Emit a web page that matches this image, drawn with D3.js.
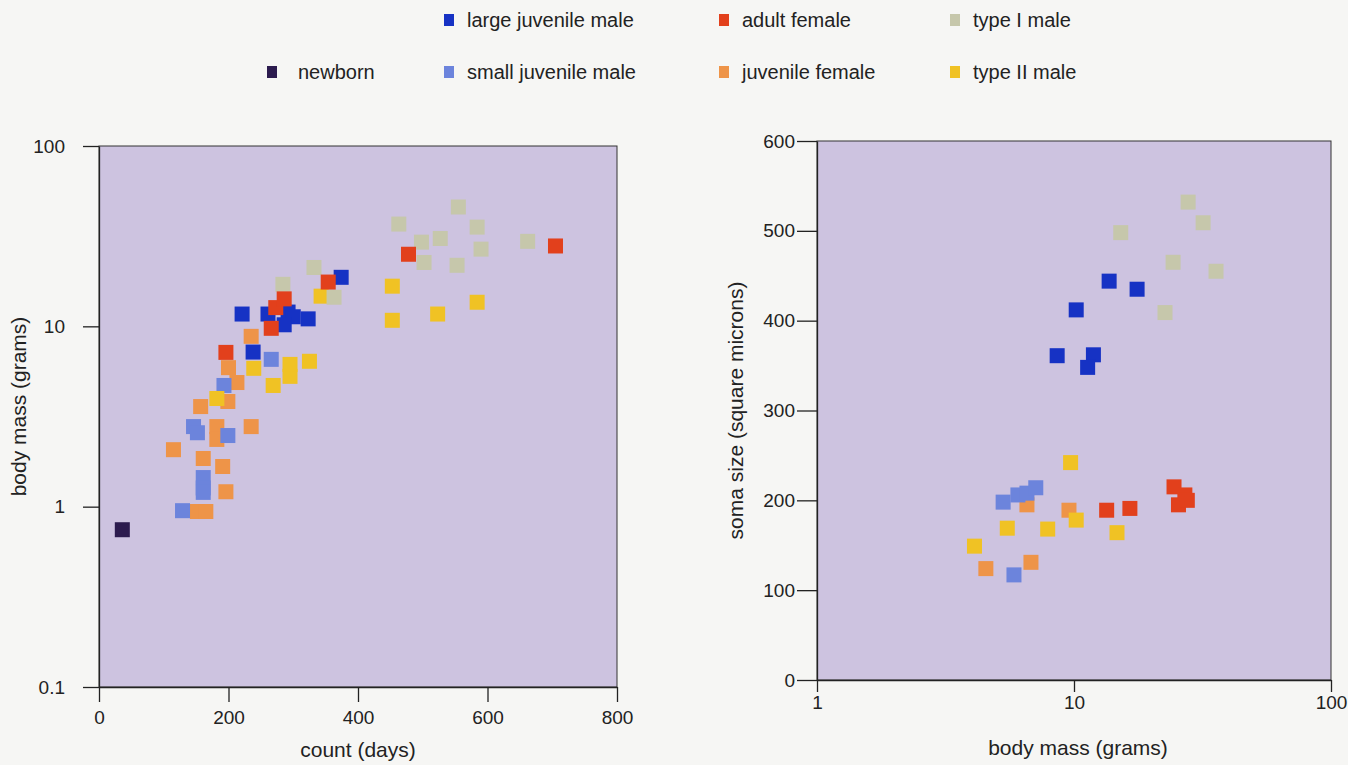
<!DOCTYPE html>
<html>
<head>
<meta charset="utf-8">
<script src="https://cdn.jsdelivr.net/npm/d3@7"></script>
<style>
  body { margin: 0; background: #f6f6f4; }
  svg { font-family: "Liberation Sans", Arial, sans-serif; }
</style>
</head>
<body>
<svg id="chart" width="1348" height="765"></svg>
<script>
// categories, in legend order
var categories = ["newborn", "large juvenile male", "small juvenile male", "adult female", "juvenile female", "type I male", "type II male"];
var catColors = ["#2c1b4e", "#1632c4", "#6c84dc", "#e2401c", "#ee9448", "#c6c7ab", "#f0c224"];

// left panel: age (days) vs body mass (grams), one array per category
var ageNewborn = [[36, 0.745]];
var ageLargeJuv = [[238, 7.2], [221, 11.7], [261, 11.7], [292, 12.0], [300, 11.3], [323, 11.0], [286, 10.2], [374, 18.7]];
var ageSmallJuv = [[129, 0.95], [161, 1.45], [161, 1.27], [161, 1.2], [146, 2.78], [152, 2.57], [199, 2.48], [193, 4.7], [266, 6.56]];
var ageAdultFem = [[196, 7.17], [266, 9.75], [273, 12.7], [286, 14.2], [354, 17.6], [478, 25.1], [705, 27.9]];
var ageJuvFem = [[152, 0.94], [165, 0.94], [196, 1.21], [161, 1.85], [191, 1.67], [115, 2.07], [182, 2.78], [182, 2.36], [235, 2.78], [157, 3.59], [199, 3.83], [213, 4.88], [200, 5.9], [235, 8.8]];
var ageTypeI = [[284, 17.1], [332, 21.2], [363, 14.5], [463, 36.9], [555, 45.9], [584, 35.5], [527, 30.7], [498, 29.3], [502, 22.6], [590, 26.8], [553, 21.8], [662, 29.6]];
var ageTypeII = [[182, 3.98], [239, 5.85], [269, 4.7], [295, 5.28], [295, 6.15], [325, 6.4], [343, 14.7], [453, 16.7], [453, 10.8], [523, 11.7], [584, 13.6]];

// right panel: body mass (grams) vs soma size (square microns)
var somaLargeJuv = [[13.7, 444], [17.6, 435], [10.2, 412], [8.6, 361], [11.9, 362], [11.3, 348]];
var somaSmallJuv = [[5.3, 198], [6.05, 206], [6.56, 208], [7.1, 214], [5.84, 117]];
var somaAdultFem = [[13.4, 189], [16.5, 191], [24.5, 215], [27.0, 206], [25.5, 195], [27.6, 200]];
var somaJuvFem = [[6.56, 195], [9.56, 189], [4.54, 124], [6.8, 131]];
var somaTypeI = [[27.8, 532], [31.8, 509], [15.2, 498], [24.3, 465], [35.7, 455], [22.6, 409]];
var somaTypeII = [[9.7, 242], [10.2, 178], [5.5, 169], [7.9, 168], [14.7, 164], [4.1, 149]];

// tick labels
var ageTicks = [0, 200, 400, 600, 800];
var massTicks = [0.1, 1, 10, 100];
var somaTicks = [0, 100, 200, 300, 400, 500, 600];
var massTicksR = [1, 10, 100];

var leftSeries = [
    {cat: "newborn", pts: ageNewborn},
    {cat: "juvenile female", pts: ageJuvFem},
    {cat: "small juvenile male", pts: ageSmallJuv},
    {cat: "type II male", pts: ageTypeII},
    {cat: "type I male", pts: ageTypeI},
    {cat: "large juvenile male", pts: ageLargeJuv},
    {cat: "adult female", pts: ageAdultFem}
];
var rightSeries = [
    {cat: "type I male", pts: somaTypeI},
    {cat: "large juvenile male", pts: somaLargeJuv},
    {cat: "juvenile female", pts: somaJuvFem},
    {cat: "small juvenile male", pts: somaSmallJuv},
    {cat: "type II male", pts: somaTypeII},
    {cat: "adult female", pts: somaAdultFem}
];

var color = d3.scaleOrdinal().domain(categories).range(catColors);
var svg = d3.select("#chart");
var size = 15;

function panel(box, x, y, series) {
    var g = svg.append("g");
    g.append("rect")
        .attr("x", box.left).attr("y", box.top)
        .attr("width", box.right - box.left).attr("height", box.bottom - box.top)
        .attr("fill", "#cdc3e0")
        .attr("stroke", "#333").attr("stroke-width", 1);

    series.forEach(function(s) {
        g.selectAll(null)
            .data(s.pts)
            .enter()
            .append("rect")
            .attr("x", function(d) { return x(d[0]) - size / 2; })
            .attr("y", function(d) { return y(d[1]) - size / 2; })
            .attr("width", size).attr("height", size)
            .attr("fill", color(s.cat));
    });
    return g;
}

function styleAxis(sel) {
    sel.select(".domain").attr("stroke", "#222").attr("stroke-width", 1.3);
    sel.selectAll(".tick line").attr("stroke", "#222").attr("stroke-width", 1.3);
    sel.selectAll(".tick text").attr("fill", "#222").style("font-size", "19px");
}

// ---- left panel
var L = {left: 99, right: 617, top: 146, bottom: 687};
var xL = d3.scaleLinear().domain([0, 800]).range([L.left, L.right]);
var yL = d3.scaleLog().domain([0.1, 100]).range([L.bottom, L.top]);
panel(L, xL, yL, leftSeries);

svg.append("g")
    .attr("transform", "translate(0," + L.bottom + ")")
    .call(d3.axisBottom(xL).tickValues(ageTicks).tickSize(15).tickPadding(9).tickSizeOuter(0))
    .call(styleAxis);
svg.append("g")
    .attr("transform", "translate(" + L.left + ",0)")
    .call(d3.axisLeft(yL).tickValues(massTicks).tickFormat(d3.format("~g")).tickSize(16).tickPadding(18).tickSizeOuter(0))
    .call(styleAxis);

svg.append("text")
    .attr("x", (L.left + L.right) / 2).attr("y", 757)
    .attr("text-anchor", "middle").style("font-size", "21px").attr("fill", "#222")
    .text("count (days)");
svg.append("text")
    .attr("transform", "translate(26," + ((L.top + L.bottom) / 2 - 10) + ") rotate(-90)")
    .attr("text-anchor", "middle").style("font-size", "21px").attr("fill", "#222")
    .text("body mass (grams)");

// ---- right panel
var R = {left: 817, right: 1331, top: 141, bottom: 680};
var xR = d3.scaleLog().domain([1, 100]).range([R.left, R.right]);
var yR = d3.scaleLinear().domain([0, 600]).range([R.bottom, R.top]);
panel(R, xR, yR, rightSeries);

svg.append("g")
    .attr("transform", "translate(0," + R.bottom + ")")
    .call(d3.axisBottom(xR).tickValues(massTicksR).tickFormat(d3.format("~g")).tickSize(12).tickPadding(4).tickSizeOuter(0))
    .call(styleAxis);
svg.append("g")
    .attr("transform", "translate(" + R.left + ",0)")
    .call(d3.axisLeft(yR).tickValues(somaTicks).tickSize(20).tickPadding(2).tickSizeOuter(0))
    .call(styleAxis);

svg.append("text")
    .attr("x", (R.left + R.right) / 2 + 4).attr("y", 755)
    .attr("text-anchor", "middle").style("font-size", "21px").attr("fill", "#222")
    .text("body mass (grams)");
svg.append("text")
    .attr("transform", "translate(743," + ((R.top + R.bottom) / 2) + ") rotate(-90)")
    .attr("text-anchor", "middle").style("font-size", "21px").attr("fill", "#222")
    .text("soma size (square microns)");

// ---- legend
var legendPos = {
    "large juvenile male": [449, 20], "adult female": [724, 20], "type I male": [955, 20],
    "newborn": [272, 72], "small juvenile male": [449, 72], "juvenile female": [724, 72], "type II male": [955, 72]
};
var legend = svg.append("g");
categories.forEach(function(c) {
    var p = legendPos[c];
    legend.append("rect")
        .attr("x", p[0] - 5).attr("y", p[1] - 6)
        .attr("width", 10).attr("height", 12)
        .attr("fill", color(c));
    legend.append("text")
        .attr("x", p[0] + (c === "newborn" ? 26 : 18)).attr("y", p[1] + 7)
        .style("font-size", "20px").attr("fill", "#222")
        .text(c);
});
</script>
</body>
</html>
